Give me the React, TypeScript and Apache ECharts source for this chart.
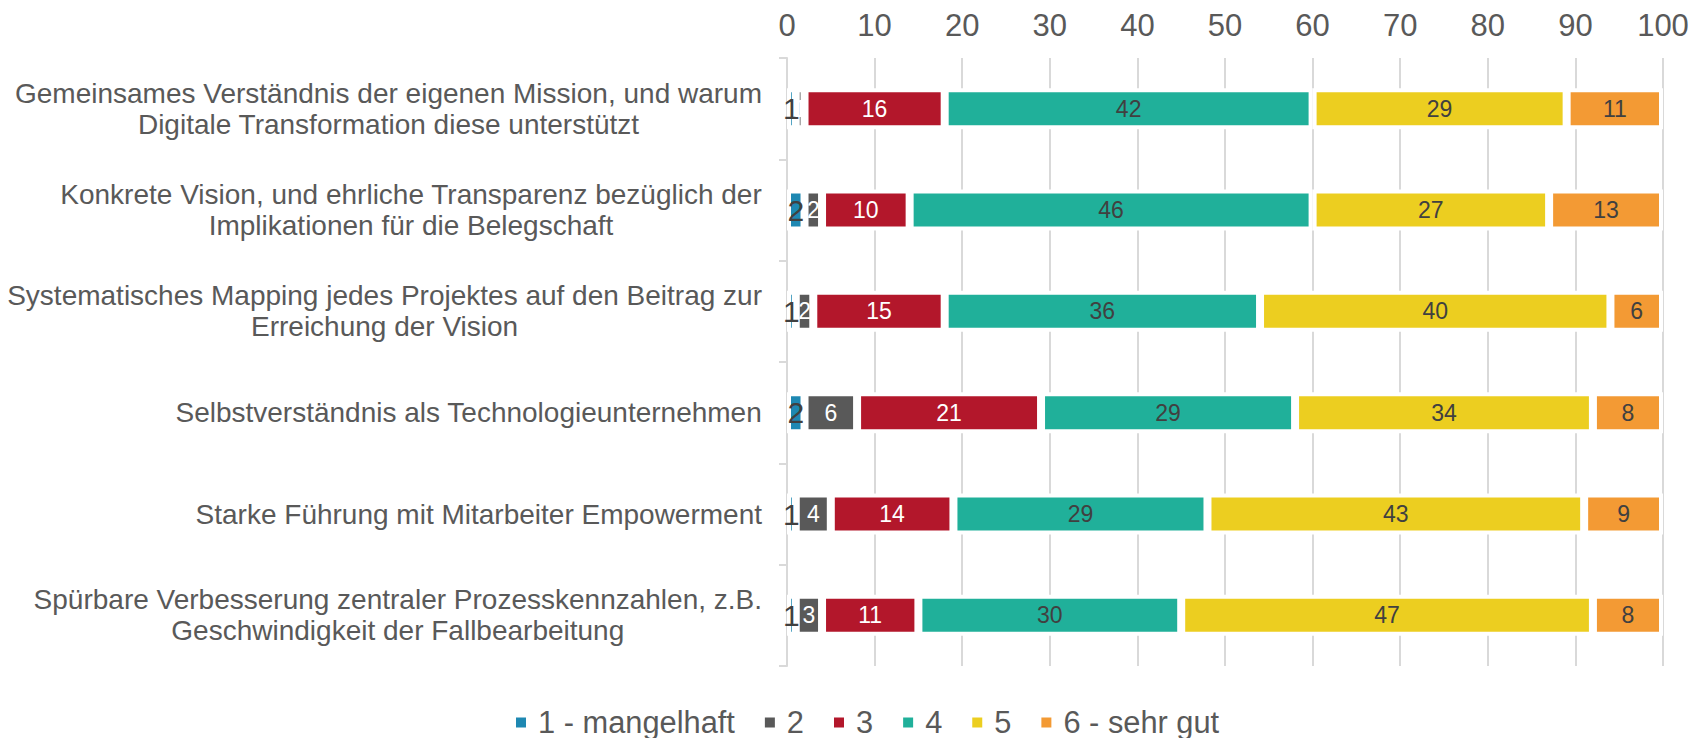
import React, { useEffect, useRef } from "react";
import * as echarts from "echarts";

const categories = [
  "Gemeinsames Verständnis der eigenen Mission, und warum\nDigitale Transformation diese unterstützt",
  "Konkrete Vision, und ehrliche Transparenz bezüglich der\nImplikationen für die Belegschaft",
  "Systematisches Mapping jedes Projektes auf den Beitrag zur\nErreichung der Vision",
  "Selbstverständnis als Technologieunternehmen",
  "Starke Führung mit Mitarbeiter Empowerment",
  "Spürbare Verbesserung zentraler Prozesskennzahlen, z.B.\nGeschwindigkeit der Fallbearbeitung",
];

const seriesNames = ["1 - mangelhaft", "2", "3", "4", "5", "6 - sehr gut"];

const grade1 = [1, 2, 1, 2, 1, 1];
const grade2 = [1, 2, 2, 6, 4, 3];
const grade3 = [16, 10, 15, 21, 14, 11];
const grade4 = [42, 46, 36, 29, 29, 30];
const grade5 = [29, 27, 40, 34, 43, 47];
const grade6 = [11, 13, 6, 8, 9, 8];

const seriesValues = [grade1, grade2, grade3, grade4, grade5, grade6];
const seriesColors = ["#1E88B2", "#595959", "#B3172B", "#20B09A", "#ECCE20", "#F39A34"];
const labelColors = ["#404040", "#FFFFFF", "#FFFFFF", "#404040", "#404040", "#404040"];
const labelSizes = [30, 23, 23, 23, 23, 23];

const FONT = "'Liberation Sans', Arial, sans-serif";

export default function App() {
  const ref = useRef<HTMLDivElement>(null);

  useEffect(() => {
    document.body.style.margin = "0";
    document.body.style.overflow = "hidden";
    const chart = echarts.init(ref.current!, null, { renderer: "svg" });
    chart.setOption({
      animation: false,
      textStyle: { fontFamily: FONT },
      grid: { left: 787, right: 44, top: 58, bottom: 72, containLabel: false },
      xAxis: {
        type: "value",
        position: "top",
        min: 0,
        max: 100,
        interval: 10,
        axisLine: { show: false },
        axisTick: { show: false },
        axisLabel: { fontSize: 31, color: "#595959", margin: 17, fontFamily: FONT },
        splitLine: { show: true, lineStyle: { color: "#D9D9D9", width: 2 } },
      },
      yAxis: {
        type: "category",
        inverse: true,
        data: categories,
        axisLine: { show: true, lineStyle: { color: "#D9D9D9", width: 2 } },
        axisTick: { show: true, length: 8, lineStyle: { color: "#D9D9D9", width: 2 } },
        axisLabel: {
          margin: 25,
          align: "right",
          formatter: (v: string) =>
            v
              .split("\n")
              .map((l) => `{c|${l}}`)
              .join("\n"),
          rich: {
            c: {
              align: "center",
              fontSize: 28,
              lineHeight: 31,
              color: "#595959",
              fontFamily: FONT,
            },
          },
        },
      },
      legend: {
        left: 509,
        top: 702,
        itemWidth: 12,
        itemHeight: 12,
        itemGap: 28,
        icon: "rect",
        data: seriesNames,
        textStyle: {
          fontSize: 30.8,
          color: "#595959",
          fontFamily: FONT,
          lineHeight: 30,
          padding: [0, 0, 0, 6],
        },
      },
      series: seriesNames.map((name, i) => ({
        name,
        type: "bar",
        stack: "total",
        data: seriesValues[i],
        barWidth: 41,
        itemStyle: { color: seriesColors[i], borderColor: "#FFFFFF", borderWidth: 4 },
        label: {
          show: true,
          position: "inside",
          color: labelColors[i],
          fontSize: labelSizes[i],
          fontFamily: FONT,
          textBorderWidth: 0,
        },
      })),
    });
    return () => chart.dispose();
  }, []);

  return (
    <div
      ref={ref}
      style={{ position: "absolute", left: 0, top: 0, width: 1707, height: 738 }}
    />
  );
}
